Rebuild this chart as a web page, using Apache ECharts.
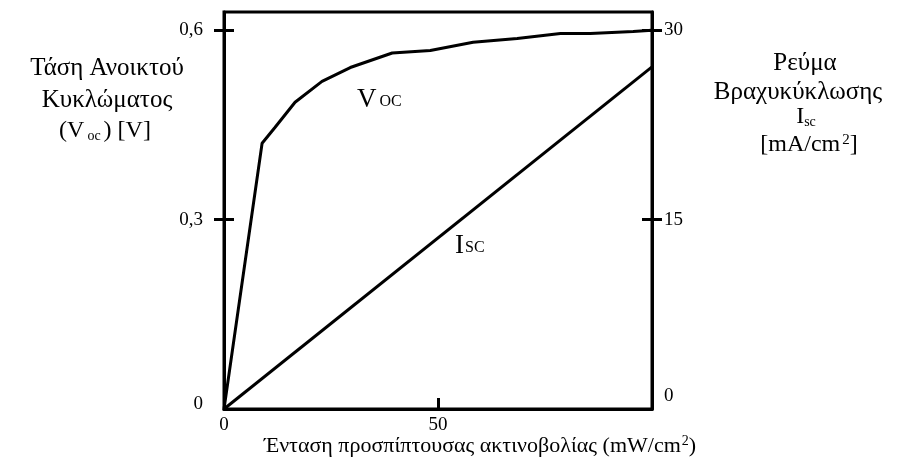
<!DOCTYPE html>
<html>
<head>
<meta charset="utf-8">
<script src="https://cdn.jsdelivr.net/npm/echarts@6/dist/echarts.min.js"></script>
<style>
  html, body { margin: 0; padding: 0; background: #fff; }
  #chart { width: 902px; height: 464px; }
</style>
</head>
<body>
<div id="chart"></div>
<script>
// Irradiance (mW/cm²) and open-circuit voltage (V)
const vocIrradiance = [0, 8.9, 11.9, 16.6, 22.9, 29.5, 39.3, 48.2, 58.2, 68.5, 78.6, 85.6, 95.6, 100];
const vocValues     = [0, 0.421, 0.446, 0.486, 0.519, 0.541, 0.564, 0.568, 0.581, 0.587, 0.595, 0.595, 0.598, 0.6];

// Irradiance (mW/cm²) and short-circuit current density (mA/cm²)
const iscIrradiance = [0, 100];
const iscValues     = [0, 27.1];

// Tick positions and labels
const xTicks = [50];
const xLabels = [0, 50];
const vTicks = [0.3, 0.6];
const vLabels = [0, 0.3, 0.6];
const iTicks = [15, 30];
const iLabels = [0, 15, 30];

const FONT = 'Liberation Serif';
const BLACK = '#000';

function pairs(xs, ys) { return xs.map((x, i) => [x, ys[i]]); }

const chart = echarts.init(document.getElementById('chart'), null, { renderer: 'canvas' });

const lineAxis = { show: true, lineStyle: { color: BLACK, width: 3 } };
const tickStyle = { color: BLACK, width: 3 };
const labelStyle = { color: BLACK, fontFamily: FONT, fontSize: 19 };

// the zero labels of both value axes sit a little above the corner
function zeroRaised(lift) {
  return { z: { fontFamily: FONT, fontSize: 19, color: BLACK, padding: [0, 0, lift, 0] } };
}

chart.setOption({
  animation: false,
  backgroundColor: '#fff',
  grid: {
    left: 224, right: 250, top: 12, bottom: 55,
    show: true, borderColor: BLACK, borderWidth: 3, backgroundColor: 'transparent'
  },
  xAxis: {
    type: 'value', min: 0, max: 100, interval: 50,
    axisLine: lineAxis,
    axisTick: { show: true, inside: true, length: 11, customValues: xTicks, lineStyle: tickStyle },
    axisLabel: Object.assign({ customValues: xLabels, margin: 7 }, labelStyle),
    splitLine: { show: false }
  },
  yAxis: [
    {
      type: 'value', position: 'left', min: 0, max: 0.629,
      axisLine: lineAxis,
      axisTick: { show: true, inside: false, length: 10, customValues: vTicks, lineStyle: tickStyle },
      axisLabel: Object.assign({
        customValues: vLabels, margin: 21,
        formatter: v => v === 0 ? '{z|0}' : String(v).replace('.', ','),
        rich: zeroRaised(10)
      }, labelStyle),
      splitLine: { show: false }
    },
    {
      type: 'value', position: 'left', min: 0, max: 0.629,
      axisLine: { show: false },
      axisTick: { show: true, inside: true, length: 10, customValues: vTicks, lineStyle: tickStyle },
      axisLabel: { show: false },
      splitLine: { show: false }
    },
    {
      type: 'value', position: 'right', min: 0, max: 31.45,
      axisLine: lineAxis,
      axisTick: { show: true, inside: false, length: 10, customValues: iTicks, lineStyle: tickStyle },
      axisLabel: Object.assign({
        customValues: iLabels, margin: 12,
        formatter: v => v === 0 ? '{z|0}' : String(v),
        rich: zeroRaised(26)
      }, labelStyle),
      splitLine: { show: false }
    },
    {
      type: 'value', position: 'right', min: 0, max: 31.45,
      axisLine: { show: false },
      axisTick: { show: true, inside: true, length: 10, customValues: iTicks, lineStyle: tickStyle },
      axisLabel: { show: false },
      splitLine: { show: false }
    }
  ],
  series: [
    {
      name: 'Voc', type: 'line', yAxisIndex: 0,
      data: pairs(vocIrradiance, vocValues),
      showSymbol: false, symbol: 'none',
      lineStyle: { color: BLACK, width: 3 }
    },
    {
      name: 'Isc', type: 'line', yAxisIndex: 2,
      data: pairs(iscIrradiance, iscValues),
      showSymbol: false, symbol: 'none',
      lineStyle: { color: BLACK, width: 3 }
    }
  ],
  graphic: [
    // left axis title
    { type: 'text', x: 107, y: 68, style: {
        text: 'Τάση Ανοικτού', fill: BLACK, font: '25px ' + FONT, align: 'center', verticalAlign: 'middle' } },
    { type: 'text', x: 107, y: 100, style: {
        text: 'Κυκλώματος', fill: BLACK, font: '25px ' + FONT, align: 'center', verticalAlign: 'middle' } },
    { type: 'text', x: 105, y: 131, style: {
        text: '(V{s|oc}) [V]', fill: BLACK, font: '24px ' + FONT, align: 'center', verticalAlign: 'middle',
        rich: { s: { fontSize: 14, fontFamily: FONT, fill: BLACK, padding: [10, 3, 0, 3] } } } },
    // right axis title
    { type: 'text', x: 805, y: 63, style: {
        text: 'Ρεύμα', fill: BLACK, font: '25px ' + FONT, align: 'center', verticalAlign: 'middle' } },
    { type: 'text', x: 798, y: 92, style: {
        text: 'Βραχυκύκλωσης', fill: BLACK, font: '25px ' + FONT, align: 'center', verticalAlign: 'middle' } },
    { type: 'text', x: 806, y: 117, style: {
        text: 'I{s|sc}', fill: BLACK, font: '24px ' + FONT, align: 'center', verticalAlign: 'middle',
        rich: { s: { fontSize: 14, fontFamily: FONT, fill: BLACK, padding: [10, 0, 0, 0] } } } },
    { type: 'text', x: 809, y: 145, style: {
        text: '[mA/cm{p|2}]', fill: BLACK, font: '24px ' + FONT, align: 'center', verticalAlign: 'middle',
        rich: { p: { fontSize: 15, fontFamily: FONT, fill: BLACK, padding: [0, 0, 10, 2] } } } },
    // bottom axis title
    { type: 'text', x: 480, y: 446, style: {
        text: 'Ένταση προσπίπτουσας ακτινοβολίας (mW/cm{p|2})', fill: BLACK, font: '22px ' + FONT,
        align: 'center', verticalAlign: 'middle',
        rich: { p: { fontSize: 14, fontFamily: FONT, fill: BLACK, padding: [0, 0, 9, 1] } } } },
    // curve labels
    { type: 'text', x: 357, y: 100, style: {
        text: 'V{s|OC}', fill: BLACK, font: '27px ' + FONT, align: 'left', verticalAlign: 'middle',
        rich: { s: { fontSize: 16, fontFamily: FONT, fill: BLACK, padding: [4, 0, 0, 3] } } } },
    { type: 'text', x: 455, y: 246, style: {
        text: 'I{s|SC}', fill: BLACK, font: '27px ' + FONT, align: 'left', verticalAlign: 'middle',
        rich: { s: { fontSize: 16, fontFamily: FONT, fill: BLACK, padding: [4, 0, 0, 1] } } } }
  ]
});
</script>
</body>
</html>
